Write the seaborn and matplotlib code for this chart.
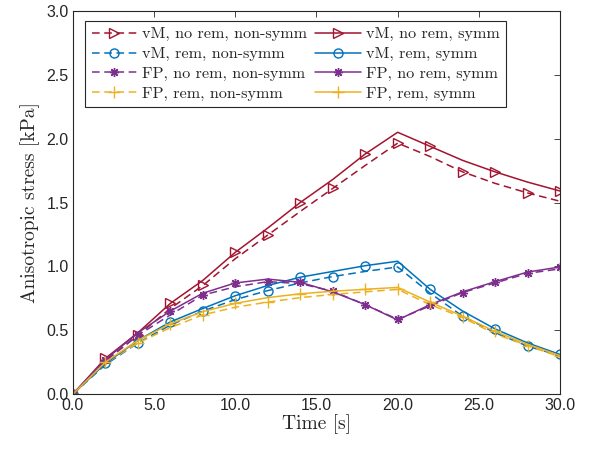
import matplotlib
matplotlib.use("Agg")
import matplotlib.pyplot as plt
import seaborn as sns
import numpy as np

# ---- data ----
time = [0, 2, 4, 6, 8, 10, 12, 14, 16, 18, 20, 22, 24, 26, 28, 30]

vm_norem_nonsymm = [0, 0.26, 0.46, 0.67, 0.85, 1.06, 1.245, 1.43, 1.61, 1.79, 1.965, 1.86, 1.74, 1.65, 1.575, 1.51]
vm_norem_symm    = [0, 0.28, 0.48, 0.71, 0.89, 1.11, 1.30, 1.50, 1.68, 1.88, 2.05, 1.94, 1.83, 1.74, 1.66, 1.59]
vm_rem_nonsymm   = [0, 0.23, 0.40, 0.54, 0.65, 0.74, 0.81, 0.87, 0.92, 0.96, 0.995, 0.79, 0.61, 0.48, 0.375, 0.30]
vm_rem_symm      = [0, 0.24, 0.42, 0.565, 0.67, 0.77, 0.85, 0.915, 0.96, 1.005, 1.04, 0.82, 0.65, 0.51, 0.40, 0.31]
fp_norem_nonsymm = [0, 0.26, 0.46, 0.62, 0.775, 0.84, 0.88, 0.865, 0.805, 0.70, 0.585, 0.69, 0.795, 0.87, 0.945, 0.98]
fp_norem_symm    = [0, 0.27, 0.48, 0.65, 0.79, 0.87, 0.90, 0.875, 0.80, 0.70, 0.58, 0.70, 0.80, 0.88, 0.955, 0.995]
fp_rem_nonsymm   = [0, 0.24, 0.40, 0.52, 0.62, 0.68, 0.72, 0.755, 0.78, 0.80, 0.82, 0.70, 0.60, 0.47, 0.38, 0.29]
fp_rem_symm      = [0, 0.25, 0.42, 0.55, 0.645, 0.71, 0.755, 0.785, 0.805, 0.82, 0.835, 0.72, 0.61, 0.49, 0.39, 0.30]

labels_nonsymm = ["vM, no rem, non-symm", "vM, rem, non-symm", "FP, no rem, non-symm", "FP, rem, non-symm"]
labels_symm = ["vM, no rem, symm", "vM, rem, symm", "FP, no rem, symm", "FP, rem, symm"]

xticks = [0, 5, 10, 15, 20, 25, 30]
yticks = [0, 0.5, 1.0, 1.5, 2.0, 2.5, 3.0]

colors = ["#A2142F", "#0072BD", "#7E2F8E", "#EDB120"]
markers = [">", "o", (8, 2, 0), "+"]
msizes = [7, 6.5, 6.5, 8]

nonsymm = [vm_norem_nonsymm, vm_rem_nonsymm, fp_norem_nonsymm, fp_rem_nonsymm]
symm = [vm_norem_symm, vm_rem_symm, fp_norem_symm, fp_rem_symm]

sns.set_style("white")
fig = plt.figure(figsize=(5.91, 4.5), dpi=100)
ax = fig.add_axes([0.1235, 0.1244, 0.824, 0.8512])

serif = "cmr10"

for i in range(4):
    sns.lineplot(x=time, y=nonsymm[i], ax=ax, color=colors[i], linestyle=(0, (5, 3)),
                 linewidth=1.1, marker=markers[i], markersize=msizes[i],
                 markerfacecolor="none", markeredgecolor=colors[i], markeredgewidth=1.0,
                 markevery=slice(0, None, 2), label=labels_nonsymm[i], sort=False,
                 errorbar=None)
for i in range(4):
    sns.lineplot(x=time, y=symm[i], ax=ax, color=colors[i], linestyle="-",
                 linewidth=1.1, marker=markers[i], markersize=msizes[i],
                 markerfacecolor="none", markeredgecolor=colors[i], markeredgewidth=1.0,
                 markevery=slice(1, None, 2), label=labels_symm[i], sort=False,
                 errorbar=None)

ax.set_xlim(0, 30)
ax.set_ylim(0, 3.0)
ax.set_xticks(xticks)
ax.set_yticks(yticks)
ax.set_xticklabels([f"{t:.1f}" for t in xticks], fontfamily="Liberation Sans", fontsize=11.5)
ax.set_yticklabels([f"{t:.1f}" for t in yticks], fontfamily="Liberation Sans", fontsize=11.5)
ax.tick_params(direction="in", length=4, width=0.6, top=True, right=True,
               colors="#262626", labelcolor="#262626", pad=3)
for s in ax.spines.values():
    s.set_color("#262626")
    s.set_linewidth(0.8)

ax.set_xlabel("Time [s]", fontfamily=serif, fontsize=14, color="#262626", labelpad=1)
ax.set_ylabel("Anisotropic stress [kPa]", fontfamily=serif, fontsize=14, color="#262626", labelpad=5)

leg = ax.legend(ncol=2, loc="upper left", bbox_to_anchor=(0.025, 0.975),
                prop={"family": serif, "size": 11.7}, frameon=True, fancybox=False,
                edgecolor="#262626", framealpha=1, handlelength=2.8, handletextpad=0.3,
                columnspacing=0.5, labelspacing=0.33, borderpad=0.4, borderaxespad=0)
leg.get_frame().set_linewidth(0.8)

fig.savefig("out.png", dpi=100)
